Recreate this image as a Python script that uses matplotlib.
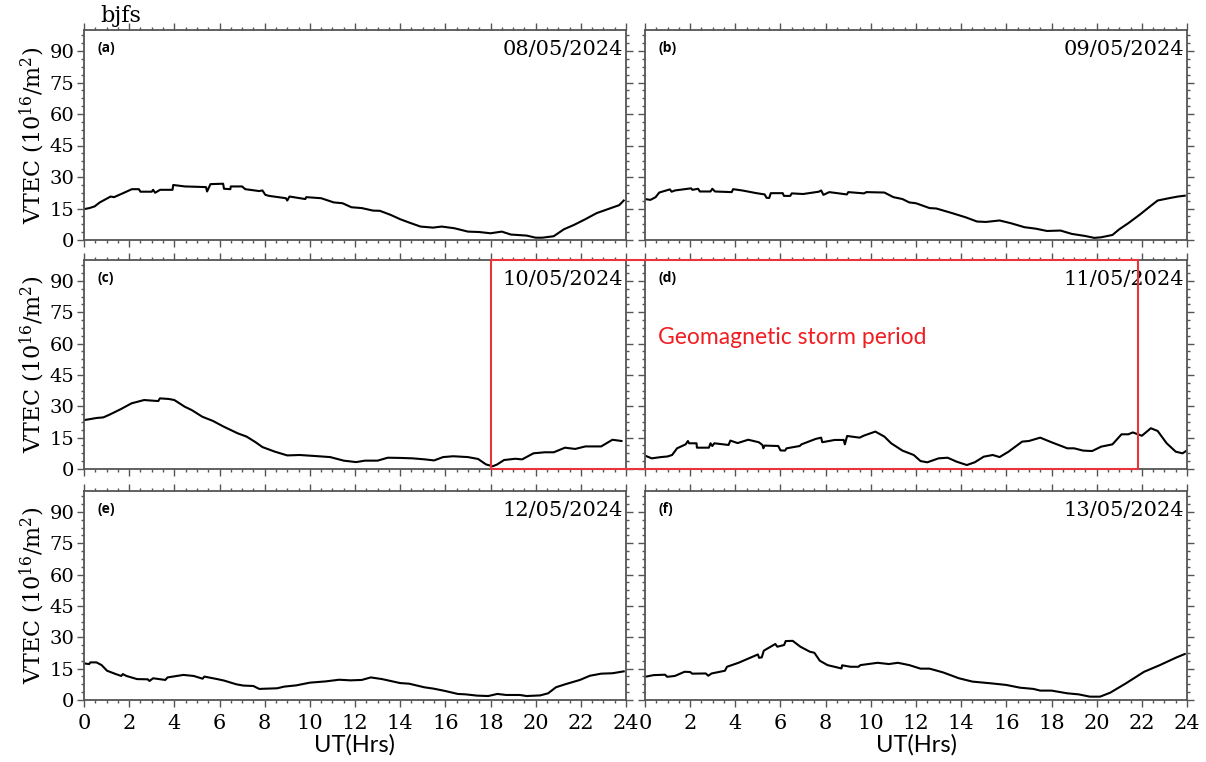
import numpy as np
import matplotlib
matplotlib.use('Agg')
import matplotlib.pyplot as plt
from matplotlib.ticker import MultipleLocator
from matplotlib.patches import Rectangle

plt.rcParams['font.family'] = ['DejaVu Serif']

# 数据
hours_a = [0, 0.24, 0.47, 0.7, 1.18, 1.33, 1.73, 2.12, 2.43, 2.5, 3.0, 3.06, 3.15, 3.37, 3.92, 3.95, 4.47,
           5.4, 5.45, 5.6, 6.16, 6.2, 6.48, 6.5, 7.0, 7.14, 7.76, 7.9, 8.03, 8.2, 8.94, 9.0, 9.1, 9.8, 9.84,
           10.5, 11.06, 11.45, 11.84, 12.3, 12.8, 13.1, 13.57, 14.0, 14.4, 14.9, 15.45, 15.84, 16.4, 17.0,
           17.5, 18.0, 18.5, 18.9, 19.6, 20.0, 20.3, 20.8, 21.25, 21.7, 22.2, 22.7, 23.2, 23.7, 23.9]
vtec_a = [14.7, 15.2, 16.0, 17.9, 20.7, 20.4, 22.3, 24.2, 24.2, 23.0, 23.0, 23.9, 22.5, 23.9, 23.9, 26.2, 25.5,
          25.2, 23.1, 26.6, 26.8, 24.4, 24.2, 25.5, 25.5, 24.2, 23.3, 23.6, 21.5, 21.0, 19.9, 18.8, 20.7, 19.5, 20.4,
          19.9, 17.9, 17.5, 15.6, 15.2, 14.0, 13.9, 12.0, 9.9, 8.3, 6.4, 5.9, 6.4, 5.6, 4.0,
          3.8, 3.2, 4.0, 2.6, 2.1, 1.1, 1.1, 1.8, 5.1, 7.2, 9.9, 12.8, 14.7, 16.6, 18.8]

hours_b = [0, 0.24, 0.47, 0.63, 1.1, 1.18, 1.33, 2.04, 2.1, 2.35, 2.43, 2.9, 2.98, 3.1, 3.84, 3.9, 4.3, 4.94,
           5.3, 5.38, 5.5, 5.57, 6.1, 6.15, 6.43, 6.5, 7.0, 7.7, 7.8, 7.9, 8.16, 8.94, 9.0, 9.7, 9.8, 10.6,
           11.0, 11.4, 11.7, 12.0, 12.6, 12.9, 13.6, 14.2, 14.7, 15.1, 15.7, 16.2, 16.8, 17.3, 17.8, 18.4,
           18.9, 19.5, 19.9, 20.2, 20.7, 21.0, 21.4, 21.9, 22.4, 22.7, 23.2, 23.6, 23.9]
vtec_b = [19.5, 19.1, 20.4, 22.6, 24.1, 23.0, 23.6, 24.6, 23.9, 24.4, 23.1, 23.1, 24.4, 23.1, 22.8, 24.2, 23.6, 22.3,
          21.7, 20.1, 20.0, 22.3, 22.3, 21.0, 21.0, 22.2, 21.9, 23.0, 23.6, 21.5, 22.8, 21.7, 22.8, 22.2, 22.8, 22.6,
          20.4, 19.5, 17.9, 17.5, 15.2, 15.0, 12.8, 10.8, 8.8, 8.6, 9.3, 8.0, 6.1, 5.4, 4.3, 4.5,
          2.9, 1.9, 1.0, 1.3, 2.4, 5.1, 8.0, 12.0, 16.3, 18.8, 19.9, 20.7, 21.1]

hours_c = [0, 0.23, 0.55, 0.86, 1.17, 1.64, 2.1, 2.66, 3.29, 3.36, 3.76, 4.0, 4.46, 4.77, 5.24, 5.71, 6.18,
           6.8, 7.2, 7.6, 7.9, 8.45, 9.0, 9.55, 10.25, 10.9, 11.5, 12.05, 12.44, 13.0, 13.45, 14.0, 14.55,
           15.1, 15.5, 15.9, 16.35, 17.0, 17.45, 17.8, 18.1, 18.3, 18.6, 19.1, 19.4, 19.9, 20.4, 20.8,
           21.3, 21.75, 22.2, 22.9, 23.4, 23.8]
vtec_c = [23.4, 23.8, 24.4, 24.7, 26.2, 28.7, 31.4, 33.0, 32.5, 33.8, 33.5, 33.0, 29.8, 28.2, 25.0, 23.0, 20.3,
          17.1, 15.5, 12.8, 10.5, 8.3, 6.5, 6.7, 6.2, 5.7, 4.0, 3.3, 4.0, 4.0, 5.4, 5.3, 5.1,
          4.6, 4.1, 5.7, 6.1, 5.7, 4.8, 2.2, 1.3, 2.2, 4.3, 4.9, 4.6, 7.5, 8.0, 8.0,
          10.2, 9.6, 10.8, 10.8, 14.0, 13.4]

hours_d = [0, 0.3, 0.7, 1.0, 1.2, 1.42, 1.8, 1.9, 1.95, 2.28, 2.3, 2.83, 2.9, 2.98, 3.07, 3.7, 3.78, 4.1,
           4.57, 5.04, 5.2, 5.24, 5.3, 5.9, 6.0, 6.2, 6.27, 6.85, 6.93, 7.56, 7.8, 7.85, 8.4, 8.8, 8.85, 8.95,
           9.5, 9.7, 10.2, 10.6, 10.9, 11.4, 11.9, 12.2, 12.5, 13.0, 13.4, 13.8, 14.25, 14.6, 15.0, 15.4,
           15.7, 16.1, 16.7, 17.0, 17.5, 18.0, 18.7, 19.0, 19.4, 19.8, 20.2, 20.7, 21.1, 21.4, 21.6, 22.0,
           22.4, 22.7, 23.1, 23.5, 23.8, 24.0]
vtec_d = [6.4, 5.1, 5.7, 6.0, 6.7, 9.9, 11.8, 13.4, 12.3, 12.3, 10.2, 10.2, 12.3, 11.0, 12.3, 11.5, 13.6, 12.4,
          14.0, 12.8, 11.5, 9.9, 11.2, 11.0, 8.9, 8.8, 9.9, 11.0, 11.8, 14.4, 15.0, 12.8, 13.9, 13.9, 11.8, 15.8,
          15.0, 16.0, 17.9, 15.5, 12.3, 8.8, 6.7, 3.8, 3.2, 5.1, 5.4, 3.5, 1.9, 3.2, 5.9, 6.7,
          5.7, 8.3, 13.1, 13.4, 15.0, 12.8, 9.9, 9.9, 8.8, 8.6, 10.7, 11.8, 16.6, 16.6, 17.5, 15.9,
          19.5, 18.2, 12.3, 8.3, 7.5, 8.9]

hours_e = [0, 0.23, 0.28, 0.55, 0.78, 1.02, 1.41, 1.65, 1.72, 1.88, 2.35, 2.82, 2.9, 3.06, 3.6, 3.7, 4.4,
           4.86, 5.25, 5.33, 5.9, 6.2, 6.75, 7.06, 7.5, 7.76, 8.0, 8.55, 8.86, 9.4, 10.0, 10.7, 11.3, 11.8,
           12.3, 12.7, 13.2, 14.0, 14.4, 15.06, 15.5, 16.0, 16.55, 16.9, 17.4, 17.9, 18.3, 18.7, 19.3, 19.6,
           20.2, 20.55, 20.9, 21.3, 21.96, 22.4, 22.9, 23.4, 23.9]
vtec_e = [17.5, 17.2, 18.0, 18.0, 16.7, 14.0, 12.4, 11.5, 12.4, 11.5, 10.0, 9.9, 9.1, 10.4, 9.6, 10.8, 12.0,
          11.5, 10.2, 11.2, 10.0, 9.3, 7.5, 6.9, 6.7, 5.3, 5.4, 5.6, 6.4, 7.0, 8.3, 8.9, 9.7, 9.4,
          9.6, 10.8, 10.0, 8.1, 7.8, 6.1, 5.4, 4.3, 2.9, 2.7, 2.1, 1.9, 2.9, 2.4, 2.4, 1.9,
          2.2, 3.2, 6.1, 7.5, 9.6, 11.6, 12.6, 12.8, 13.7]

hours_f = [0, 0.38, 0.89, 0.98, 1.32, 1.75, 2.0, 2.09, 2.69, 2.8, 2.95, 3.54, 3.63, 4.14, 5.0, 5.05, 5.17,
           5.26, 5.77, 5.86, 6.16, 6.23, 6.54, 6.88, 7.3, 7.5, 7.74, 8.08, 8.7, 8.73, 9.1, 9.45, 9.54, 10.3,
           10.8, 11.2, 11.7, 12.2, 12.6, 13.2, 13.9, 14.5, 15.3, 16.0, 16.6, 17.2, 17.5, 18.0, 18.7, 19.2,
           19.7, 20.15, 20.6, 21.3, 22.1, 22.8, 23.5, 23.9]
vtec_f = [11.1, 11.9, 12.1, 11.1, 11.5, 13.5, 13.4, 12.6, 12.7, 11.6, 12.7, 14.0, 15.9, 17.8, 21.8, 20.2, 20.4,
          23.6, 26.8, 25.5, 26.3, 28.2, 28.3, 25.5, 23.1, 22.6, 18.8, 16.7, 15.1, 16.6, 15.9, 15.9, 16.7, 17.8,
          17.2, 17.8, 16.7, 15.0, 15.0, 13.2, 10.4, 8.8, 8.0, 7.2, 5.9, 5.3, 4.5, 4.5, 3.2, 2.7,
          1.6, 1.6, 3.5, 8.0, 13.5, 16.7, 20.2, 22.0]

hours_list = [hours_a, hours_b, hours_c, hours_d, hours_e, hours_f]
vtec_list = [vtec_a, vtec_b, vtec_c, vtec_d, vtec_e, vtec_f]
panel_labels = ['(a)', '(b)', '(c)', '(d)', '(e)', '(f)']
dates = ['08/05/2024', '09/05/2024', '10/05/2024', '11/05/2024', '12/05/2024', '13/05/2024']
x_ticks = np.arange(0, 25, 2)
y_ticks = [0, 15, 30, 45, 60, 75, 90]
storm_start = 18.0   # 面板 (c) 中
storm_end = 21.85    # 面板 (d) 中

W, H = 1206, 762
fig = plt.figure(figsize=(W / 100, H / 100), dpi=100)

col_left = [84, 645]
col_w = 542
row_top = [30, 260, 491]
row_h = [210, 209, 209]

spine_col = '#555555'
axes = []
for i in range(6):
    r, c = i // 2, i % 2
    ax = fig.add_axes([col_left[c] / W, 1 - (row_top[r] + row_h[r]) / H, col_w / W, row_h[r] / H])
    ax.plot(hours_list[i], vtec_list[i], color='black', linewidth=1.5)
    ax.set_xlim(0, 24)
    ax.set_ylim(0, 100)
    ax.set_xticks(x_ticks)
    ax.set_yticks(y_ticks)
    ax.xaxis.set_minor_locator(MultipleLocator(0.5))
    ax.yaxis.set_minor_locator(MultipleLocator(3.75))
    ax.tick_params(which='both', direction='out', top=True, right=True, color=spine_col, width=1.0)
    ax.tick_params(which='major', length=5)
    ax.tick_params(which='minor', length=2.5)
    ax.tick_params(axis='y', labelsize=14, pad=2)
    ax.tick_params(axis='x', labelsize=15, pad=5)
    for s in ax.spines.values():
        s.set_color(spine_col)
        s.set_linewidth(1.3)
    if c == 1:
        ax.tick_params(labelleft=False)
    else:
        ax.set_ylabel('VTEC (10$\\mathregular{^{16}}$/m$\\mathregular{^{2}}$)', fontsize=16, labelpad=2)
    if r < 2:
        ax.tick_params(labelbottom=False)
    else:
        ax.set_xlabel('UT(Hrs)', fontsize=17, family='Lato', labelpad=1)
    ax.text(0.024, 0.915, panel_labels[i], transform=ax.transAxes, fontsize=10,
            family='Open Sans', fontweight='bold', va='center', ha='left')
    ax.text(0.995, 0.905, dates[i], transform=ax.transAxes, fontsize=15,
            va='center', ha='right')
    axes.append(ax)

# 地磁暴时段红框
ax_c, ax_d = axes[2], axes[3]
inv = fig.transFigure.inverted()
x0 = inv.transform(ax_c.transData.transform((storm_start, 0)))[0]
x1 = inv.transform(ax_d.transData.transform((storm_end, 0)))[0]
y0 = inv.transform(ax_c.transData.transform((0, 0)))[1]
y1 = inv.transform(ax_c.transData.transform((0, 100)))[1]
fig.patches.append(Rectangle((x0, y0), x1 - x0, y1 - y0, transform=fig.transFigure,
                             fill=False, edgecolor='#e8353b', linewidth=1.5, zorder=10))
ax_d.text(0.024, 0.627, 'Geomagnetic storm period', transform=ax_d.transAxes,
          fontsize=16.5, family='Lato', color='#f01e23', va='center', ha='left')

fig.text(100 / W, 1 - 16 / H, 'bjfs', fontsize=16, va='center', ha='left')

plt.savefig('out.png', dpi=100)
